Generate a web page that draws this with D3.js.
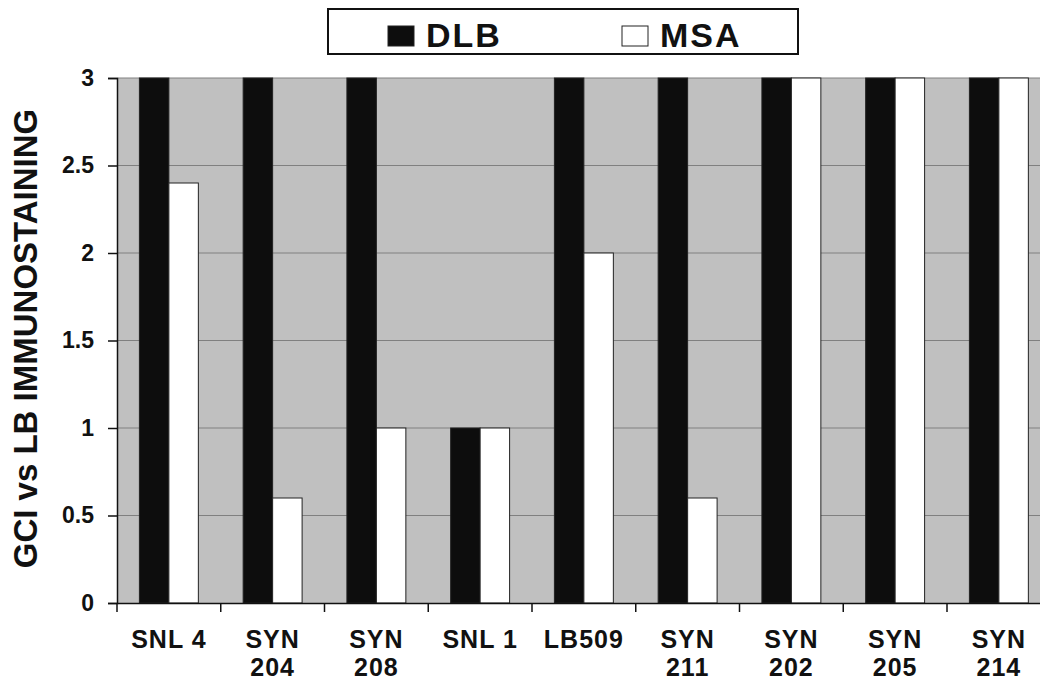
<!DOCTYPE html>
<html><head><meta charset="utf-8">
<script src="https://cdn.jsdelivr.net/npm/d3@7"></script>
<style>
html,body{margin:0;padding:0;background:#fff;}
svg{display:block;font-family:"Liberation Sans",Arial,sans-serif;font-weight:bold;}
</style></head>
<body>
<svg id="chart" width="1040" height="682"></svg>
<script>
const categories = [["SNL 4"],["SYN","204"],["SYN","208"],["SNL 1"],["LB509"],["SYN","211"],["SYN","202"],["SYN","205"],["SYN","214"]];
const seriesNames = ["DLB","MSA"];
const dlbValues = [3,3,3,1,3,3,3,3,3];
const msaValues = [2.4,0.6,1,1,2,0.6,3,3,3];
const yTicks = [0,0.5,1,1.5,2,2.5,3];
const yTickLabels = ["0","0.5","1","1.5","2","2.5","3"];
const yTitle = "GCI vs LB IMMUNOSTAINING";
const colors = {DLB:"#0d0d0d", MSA:"#ffffff"};

(function(){
const FONT = '"Liberation Sans",Arial,sans-serif';
const svg = d3.select("#chart");
const mLeft = 117, mTop = 78, mBottom = 603, step = 103.75;
const catKeys = categories.map(c => c.join(" "));
const x0 = d3.scaleBand().domain(catKeys).range([mLeft, mLeft + step*categories.length]).padding(0);
const x1 = d3.scaleBand().domain(seriesNames).range([0, x0.bandwidth()]).paddingInner(0).paddingOuter(0.76);
const y = d3.scaleLinear().domain([0,3]).range([mBottom, mTop]);

svg.append("rect").attr("x", mLeft).attr("y", mTop).attr("width", x0.range()[1]-mLeft).attr("height", mBottom-mTop).attr("fill", "#c0c0c0");

svg.append("g").selectAll("line").data(yTicks.filter(t => t>0)).join("line")
  .attr("x1", mLeft).attr("x2", x0.range()[1]).attr("y1", d => y(d)).attr("y2", d => y(d))
  .attr("stroke", "#808080").attr("stroke-width", 1);

const data = catKeys.map((k,i) => ({k, vals:[{s:"DLB", v:dlbValues[i]},{s:"MSA", v:msaValues[i]}]}));
const g = svg.append("g").selectAll("g").data(data).join("g").attr("transform", d => `translate(${x0(d.k)},0)`);
g.selectAll("rect").data(d => d.vals).join("rect")
  .attr("x", d => x1(d.s)).attr("width", x1.bandwidth())
  .attr("y", d => y(d.v)).attr("height", d => y(0)-y(d.v))
  .attr("fill", d => colors[d.s]).attr("stroke", "#222").attr("stroke-width", 1);

const yAxis = d3.axisLeft(y).tickValues(yTicks).tickFormat((d,i) => yTickLabels[i]).tickSize(9).tickPadding(14);
const ya = svg.append("g").attr("transform", `translate(${mLeft},0)`).call(yAxis);
ya.select(".domain").attr("stroke", "#111").attr("stroke-width", 1.5);
ya.selectAll(".tick line").attr("stroke", "#111").attr("stroke-width", 1.5);
ya.selectAll("text").attr("font-size", 23).attr("font-weight", "bold").attr("fill", "#111").attr("font-family", FONT);

const xAxis = d3.axisBottom(x0).tickValues([]).tickSizeOuter(0);
const xa = svg.append("g").attr("transform", `translate(0,${mBottom})`).call(xAxis);
xa.select(".domain").attr("stroke", "#111").attr("stroke-width", 1.5);
const boundaries = catKeys.map(k => x0(k));
xa.selectAll(".bt").data(boundaries).join("line").attr("class","bt")
  .attr("x1", d => d).attr("x2", d => d).attr("y1", 0).attr("y2", 9)
  .attr("stroke", "#111").attr("stroke-width", 1.5);
const lab = svg.append("g").selectAll("text").data(categories).join("text")
  .attr("x", (d,i) => x0(catKeys[i]) + x0.bandwidth()/2)
  .attr("y", 648).attr("text-anchor", "middle").attr("font-size", 25).attr("letter-spacing", 1).attr("fill", "#111");
lab.selectAll("tspan").data(d => d).join("tspan")
  .attr("x", function(){ return this.parentNode.getAttribute("x"); })
  .attr("dy", (d,i) => i === 0 ? 0 : 28).text(d => d);

svg.append("text").attr("transform", `translate(37,338.5) rotate(-90)`).attr("text-anchor","middle")
  .attr("font-size", 33).attr("fill", "#111").text(yTitle);

const lg = svg.append("g");
lg.append("rect").attr("x", 328).attr("y", 9).attr("width", 470).attr("height", 45).attr("fill", "#fff").attr("stroke", "#111").attr("stroke-width", 2);
const legItems = [{s:"DLB", x:388, tx:426},{s:"MSA", x:622, tx:660}];
legItems.forEach(it => {
  lg.append("rect").attr("x", it.x).attr("y", 26).attr("width", 26).attr("height", 20)
    .attr("fill", colors[it.s]).attr("stroke", "#222").attr("stroke-width", 1);
  lg.append("text").attr("x", it.tx).attr("y", 47).attr("font-size", 34).attr("letter-spacing", 2).attr("fill", "#111").text(it.s);
});
})();
</script>
</body></html>
